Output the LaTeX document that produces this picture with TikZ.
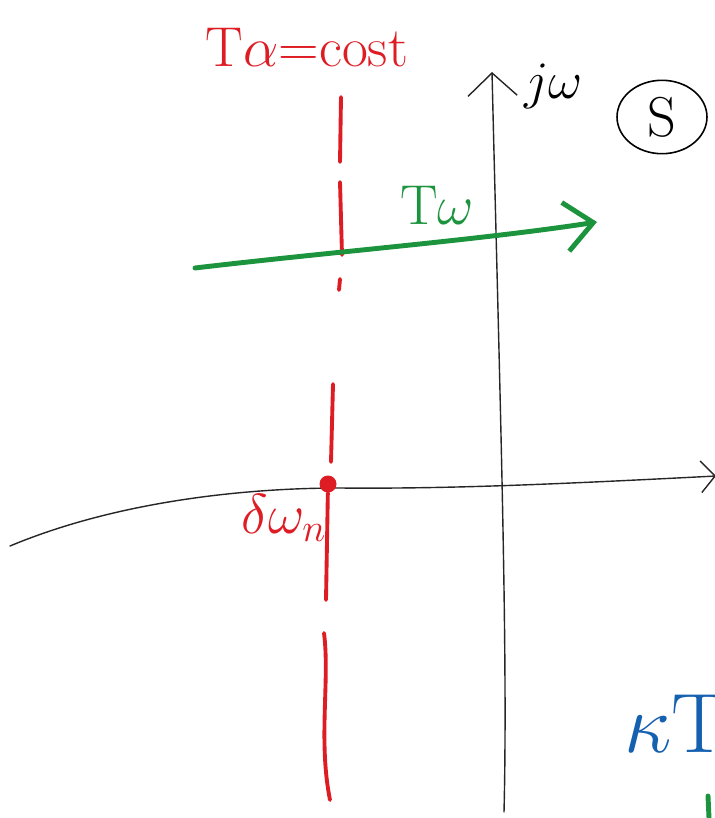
\documentclass[tikz,border=0pt]{standalone}
\usepackage{fix-cm}
\usetikzlibrary{arrows.meta,shapes.geometric}
\definecolor{penred}{RGB}{222,28,36}
\definecolor{pengreen}{RGB}{28,148,62}
\definecolor{penblue}{RGB}{22,96,176}
\begin{document}
\begin{tikzpicture}[x=0.02cm,y=-0.02cm,
    axis/.style={line width=0.8pt,black!85,line cap=round},
    redpen/.style={penred,line width=2.2pt,line cap=round},
    greenpen/.style={pengreen,line width=2.8pt,line cap=round},
    hand/.style={font=\fontsize{32}{36}\selectfont}]
    \useasboundingbox (0,0) rectangle (714,818);
    % s-plane axes
    \coordinate (reL) at (10,546);
    \coordinate (reR) at (716,476);
    \coordinate (imB) at (504,812);
    \coordinate (imT) at (492,72);
    \draw[axis,-{Straight Barb[length=8pt,width=18pt]}] (reL) .. controls (120,500) and (250,488) .. (340,488) .. controls (450,489) and (560,484) .. (reR);
    \draw[axis,-{Straight Barb[length=13pt,width=28pt]}] (imB) .. controls (508,650) and (500,400) .. (imT);
    \node[hand,anchor=base west,font=\fontsize{30}{34}\selectfont] (jw) at (518,98) {$j\omega$};
    \node[draw,ellipse,line width=0.9pt,minimum width=1.8cm,minimum height=1.42cm,hand] (splane) at (662,117) {S};
    % Ta = cost line
    \node[hand,penred] (talabel) at (307,48) {T$\alpha$=cost};
    \draw[redpen] (341,97) -- (340,162);
    \draw[redpen] (340,182) -- (342,255);
    \draw[redpen] (340,279) -- (339,290);
    \draw[redpen] (333,384) -- (331,462);
    \node[circle,fill=penred,inner sep=0pt,minimum size=0.34cm] (pole) at (328,484) {};
    \draw[redpen] (pole) -- (326,600);
    \draw[redpen] (324,633) .. controls (330,680) and (318,740) .. (330,800);
    \node[hand,penred] (dwn) at (284,518) {$\delta\omega_n$};
    % Tw line
    \coordinate (gL) at (195,268);
    \coordinate (gR) at (597,222);
    \draw[greenpen,-{Straight Barb[length=16pt,width=28pt]}] (gL) .. controls (330,252) and (480,240) .. (gR);
    \node[hand,pengreen] (twlabel) at (437,205) {T$\omega$};
    % cut-off notes at the right
    \node[penblue,anchor=base west,font=\fontsize{48}{52}\selectfont] (kt) at (618,752) {$\kappa$T};
    \draw[greenpen] (708,796) -- (709,818);
\end{tikzpicture}
\end{document}
